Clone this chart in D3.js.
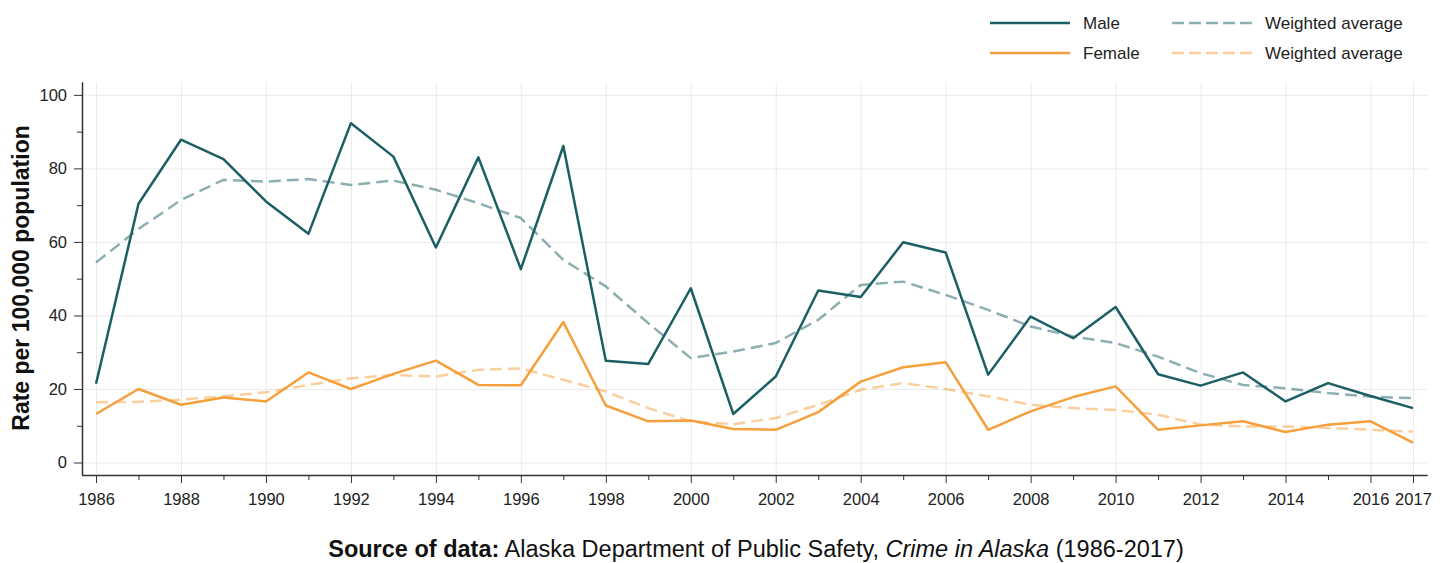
<!DOCTYPE html>
<html>
<head>
<meta charset="utf-8">
<script src="https://cdn.jsdelivr.net/npm/d3@7"></script>
<style>
  body { margin: 0; background: #fff; font-family: Arial, "Liberation Sans", sans-serif; }
  .grid line { stroke: #ebebeb; stroke-width: 1; }
  .grid path { display: none; }
  .axis text { font-size: 16.5px; fill: #222; }
  .axis path, .axis line { stroke: #333; }
</style>
</head>
<body>
<div class="container"></div>
<script>
"use strict";

// data
const years = d3.range(1986, 2018);
const male = [21.4, 70.4, 87.8, 82.5, 71.0, 62.2, 92.3, 83.2, 58.5, 83.0, 52.6,
  86.1, 27.7, 26.8, 47.4, 13.2, 23.4, 46.8, 45.0, 59.9, 57.1, 23.9,
  39.7, 33.8, 42.3, 24.0, 20.9, 24.5, 16.6, 21.6, 18.1, 14.8];
const female = [13.2, 20.0, 15.7, 17.7, 16.6, 24.5, 20.0, 24.1, 27.7, 21.1, 21.0,
  38.2, 15.5, 11.2, 11.4, 9.1, 8.9, 13.7, 22.0, 25.9, 27.3, 8.9,
  13.9, 17.8, 20.7, 8.9, 10.1, 11.2, 8.3, 10.3, 11.2, 5.4];
const maleAvg = [54.4, 63.5, 71.4, 76.9, 76.4, 77.1, 75.5, 76.7, 74.2, 70.5, 66.5,
  55.1, 47.9, 37.9, 28.4, 30.2, 32.5, 38.8, 48.3, 49.2, 45.6, 41.5,
  37.0, 34.3, 32.5, 28.8, 24.3, 21.1, 20.2, 18.9, 17.9, 17.5];
const femaleAvg = [16.4, 16.5, 17.1, 18.0, 19.1, 21.1, 22.9, 23.8, 23.4, 25.2, 25.6,
  22.5, 19.3, 14.8, 11.2, 10.4, 12.1, 15.7, 19.8, 21.6, 20.0, 18.0,
  15.7, 14.8, 14.3, 13.0, 10.3, 9.8, 9.8, 9.4, 8.9, 8.4];
const xTicks = [1986, 1988, 1990, 1992, 1994, 1996, 1998, 2000, 2002, 2004,
  2006, 2008, 2010, 2012, 2014, 2016, 2017];
const yTicks = [0, 20, 40, 60, 80, 100];

const teal = "#1b5f64";
const orange = "#f5a03c";

const width = 1445;
const height = 563;
const plot = { left: 82, right: 1427, top: 82, bottom: 475 };

const svg = d3.select(".container").append("svg")
  .attr("width", width)
  .attr("height", height);

const x = d3.scaleLinear().domain([1985.67, 2017.33]).range([plot.left, plot.right]);
const y = d3.scaleLinear().domain([-3.4, 103.5]).range([plot.bottom, plot.top]);

// gridlines
svg.append("g").attr("class", "grid")
  .attr("transform", "translate(0," + plot.bottom + ")")
  .call(d3.axisBottom(x).tickValues(xTicks).tickSize(-(plot.bottom - plot.top)).tickFormat(""));
svg.append("g").attr("class", "grid")
  .attr("transform", "translate(" + plot.left + ",0)")
  .call(d3.axisLeft(y).tickValues(yTicks).tickSize(-(plot.right - plot.left)).tickFormat(""));

// minor ticks
const oddYears = years.filter((d) => d % 2 === 1 && d !== 2017);
svg.append("g").attr("class", "axis")
  .attr("transform", "translate(0," + plot.bottom + ")")
  .call(d3.axisBottom(x).tickValues(oddYears).tickSize(5).tickSizeOuter(0).tickFormat(""));
svg.append("g").attr("class", "axis")
  .attr("transform", "translate(" + plot.left + ",0)")
  .call(d3.axisLeft(y).tickValues([10, 30, 50, 70, 90]).tickSize(5).tickSizeOuter(0).tickFormat(""));

// main axes
const xAxis = svg.append("g").attr("class", "axis")
  .attr("transform", "translate(0," + plot.bottom + ")")
  .call(d3.axisBottom(x).tickValues(xTicks).tickSize(8).tickSizeOuter(0).tickFormat(d3.format("d")));
xAxis.selectAll("text").attr("y", 30).attr("dy", 0);
xAxis.selectAll("path").attr("stroke-width", 1.5);

const yAxis = svg.append("g").attr("class", "axis")
  .attr("transform", "translate(" + plot.left + ",0)")
  .call(d3.axisLeft(y).tickValues(yTicks).tickSize(8).tickSizeOuter(0));
yAxis.selectAll("text").attr("x", -15);
yAxis.selectAll("path").attr("stroke-width", 1.5);

// lines
const line = d3.line().x((d, i) => x(years[i])).y((d) => y(d));

const series = [
  { values: maleAvg, color: teal, dash: "12,6", opacity: 0.5 },
  { values: femaleAvg, color: orange, dash: "12,6", opacity: 0.5 },
  { values: male, color: teal, dash: null, opacity: 1 },
  { values: female, color: orange, dash: null, opacity: 1 }
];

svg.append("g")
  .selectAll("path")
  .data(series)
  .enter()
  .append("path")
  .attr("d", (d) => line(d.values))
  .attr("fill", "none")
  .attr("stroke", (d) => d.color)
  .attr("stroke-opacity", (d) => d.opacity)
  .attr("stroke-width", 2.5)
  .attr("stroke-linejoin", "round")
  .attr("stroke-dasharray", (d) => d.dash);

// legend
const legendItems = [
  { label: "Male", color: teal, dash: null, opacity: 1, lx: 990, ly: 23 },
  { label: "Weighted average", color: teal, dash: "12,5", opacity: 0.5, lx: 1172, ly: 23 },
  { label: "Female", color: orange, dash: null, opacity: 1, lx: 990, ly: 53 },
  { label: "Weighted average", color: orange, dash: "12,5", opacity: 0.5, lx: 1172, ly: 53 }
];

const legend = svg.append("g")
  .selectAll("g")
  .data(legendItems)
  .enter()
  .append("g")
  .attr("transform", (d) => "translate(" + d.lx + "," + d.ly + ")");

legend.append("line")
  .attr("x1", 0).attr("x2", 80)
  .attr("stroke", (d) => d.color)
  .attr("stroke-opacity", (d) => d.opacity)
  .attr("stroke-width", 2.5)
  .attr("stroke-dasharray", (d) => d.dash);

legend.append("text")
  .attr("x", 93)
  .attr("dy", "0.35em")
  .style("font-size", "17px")
  .style("fill", "#222")
  .text((d) => d.label);

// y title
svg.append("text")
  .attr("transform", "translate(29,278) rotate(-90)")
  .attr("text-anchor", "middle")
  .style("font-size", "23px")
  .style("font-weight", "bold")
  .style("fill", "#111")
  .text("Rate per 100,000 population");

// source
const source = svg.append("text")
  .attr("x", 756)
  .attr("y", 557)
  .attr("text-anchor", "middle")
  .style("font-size", "23.5px")
  .style("fill", "#111");
source.append("tspan").style("font-weight", "bold").text("Source of data:");
source.append("tspan").text(" Alaska Department of Public Safety, ");
source.append("tspan").style("font-style", "italic").text("Crime in Alaska");
source.append("tspan").text(" (1986-2017)");
</script>
</body>
</html>
